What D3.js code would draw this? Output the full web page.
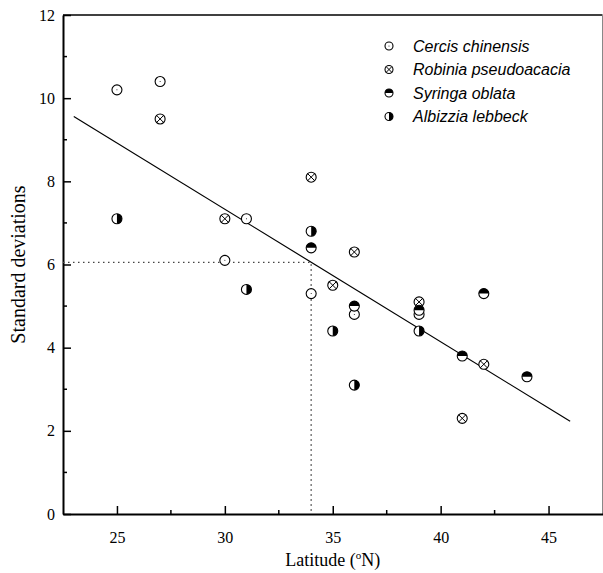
<!DOCTYPE html>
<html>
<head>
<meta charset="utf-8">
<script src="https://cdn.jsdelivr.net/npm/d3@7"></script>
<style>
  body { margin: 0; background: #fff; }
  svg { display: block; }
</style>
</head>
<body>
<svg id="chart" width="603" height="573"></svg>
<script>
// data
const cercisLat = [25, 27, 30, 31, 34, 36, 39];
const cercisSd = [10.2, 10.4, 6.1, 7.1, 5.3, 4.8, 4.8];
const robiniaLat = [27, 30, 34, 35, 36, 39, 41, 42];
const robiniaSd = [9.5, 7.1, 8.1, 5.5, 6.3, 5.1, 2.3, 3.6];
const syringaLat = [34, 36, 39, 41, 42, 44];
const syringaSd = [6.4, 5.0, 4.9, 3.8, 5.3, 3.3];
const albizziaLat = [25, 31, 34, 35, 36, 39];
const albizziaSd = [7.1, 5.4, 6.8, 4.4, 3.1, 4.4];
const speciesNames = ['Cercis chinensis', 'Robinia pseudoacacia', 'Syringa oblata', 'Albizzia lebbeck'];
const fitLat = [23, 46];
const fitSd = [9.56, 2.23];
const guideLat = 34;
const guideSd = 6.05;
const xTicks = [25, 30, 35, 40, 45];
const yTicks = [0, 2, 4, 6, 8, 10, 12];

const svg = d3.select('#chart');
const x = d3.scaleLinear().domain([22.5, 47.5]).range([63, 602.5]);
const y = d3.scaleLinear().domain([0, 12]).range([514, 15]);

const serif = '"Liberation Serif", "Times New Roman", serif';
const sans = '"Liberation Sans", Arial, sans-serif';

// frame (top + right)
svg.append('line').attr('x1', x(22.5)).attr('x2', x(47.5)).attr('y1', y(12)).attr('y2', y(12))
  .attr('stroke', '#000').attr('stroke-width', 1.5);
svg.append('line').attr('x1', x(47.5)).attr('x2', x(47.5)).attr('y1', y(12)).attr('y2', y(0))
  .attr('stroke', '#888').attr('stroke-width', 1);

// minor ticks
const minorX = d3.range(27.5, 47.5, 5);
const minorY = d3.range(1, 12, 2);
svg.append('g').selectAll('line').data(minorX).enter().append('line')
  .attr('x1', d => x(d)).attr('x2', d => x(d)).attr('y1', y(0)).attr('y2', y(0) - 4)
  .attr('stroke', '#000').attr('stroke-width', 1.5);
svg.append('g').selectAll('line').data(minorY).enter().append('line')
  .attr('x1', x(22.5)).attr('x2', x(22.5) + 4).attr('y1', d => y(d)).attr('y2', d => y(d))
  .attr('stroke', '#000').attr('stroke-width', 1.5);

// axes
const xAxis = svg.append('g').attr('transform', `translate(0,${y(0)})`)
  .call(d3.axisBottom(x).tickValues(xTicks).tickSize(-8).tickSizeOuter(0).tickPadding(18));
const yAxis = svg.append('g').attr('transform', `translate(${x(22.5)},0)`)
  .call(d3.axisLeft(y).tickValues(yTicks).tickSize(-8).tickSizeOuter(0).tickPadding(8));
[xAxis, yAxis].forEach(a => {
  a.attr('font-family', serif).attr('font-size', 16);
  a.select('.domain').attr('stroke-width', 2);
  a.selectAll('.tick line').attr('stroke-width', 1.5);
  a.selectAll('.tick text').style('font-family', serif).style('font-size', '16px').attr('fill', '#000');
});

// axis titles
svg.append('text')
  .attr('transform', `translate(25,${(y(0) + y(12)) / 2}) rotate(-90)`)
  .attr('text-anchor', 'middle')
  .style('font-family', serif).style('font-size', '20px')
  .text('Standard deviations');
const xt = svg.append('text')
  .attr('x', (x(22.5) + x(47.5)) / 2).attr('y', 566)
  .attr('text-anchor', 'middle')
  .style('font-family', serif).style('font-size', '18px');
xt.append('tspan').text('Latitude (');
xt.append('tspan').attr('dy', -7).style('font-size', '11px').text('o');
xt.append('tspan').attr('dy', 7).text('N)');

// dotted guides
svg.append('path')
  .attr('d', `M${x(22.5)},${y(guideSd)} H${x(guideLat)} V${y(0)}`)
  .attr('fill', 'none').attr('stroke', '#444').attr('stroke-width', 1.4)
  .attr('stroke-dasharray', '1.5,3.5');

// regression line
svg.append('line')
  .attr('x1', x(fitLat[0])).attr('y1', y(fitSd[0]))
  .attr('x2', x(fitLat[1])).attr('y2', y(fitSd[1]))
  .attr('stroke', '#000').attr('stroke-width', 1.2);

// marker drawing
function drawMarker(g, kind, r) {
  g.append('circle').attr('r', r).attr('fill', '#fff').attr('stroke', '#000').attr('stroke-width', 1.1);
  if (kind === 0) {
    g.append('circle').attr('r', 0.5).attr('fill', '#000');
  } else if (kind === 1) {
    const k = r * 0.72;
    g.append('path').attr('d', `M${-k},${-k}L${k},${k}M${-k},${k}L${k},${-k}`)
      .attr('stroke', '#000').attr('stroke-width', 1);
  } else if (kind === 2) {
    g.append('path').attr('d', `M${-r},0A${r},${r} 0 0 1 ${r},0Z`).attr('fill', '#000');
  } else {
    g.append('path').attr('d', `M0,${-r}A${r},${r} 0 0 1 0,${r}Z`).attr('fill', '#000');
  }
}

const series = [
  { lat: cercisLat, sd: cercisSd },
  { lat: robiniaLat, sd: robiniaSd },
  { lat: syringaLat, sd: syringaSd },
  { lat: albizziaLat, sd: albizziaSd }
];
series.forEach((s, k) => {
  s.lat.forEach((lat, i) => {
    const g = svg.append('g').attr('transform', `translate(${x(lat)},${y(s.sd[i])})`);
    drawMarker(g, k, 5);
  });
});

// legend
const legend = svg.append('g');
speciesNames.forEach((name, i) => {
  const yy = 46 + i * 23.5;
  drawMarker(legend.append('g').attr('transform', `translate(389,${yy})`), i, 4);
  legend.append('text').attr('x', 413).attr('y', yy + 5.5)
    .style('font-family', sans).style('font-size', '16px').style('font-style', 'italic')
    .text(name);
});
</script>
</body>
</html>
